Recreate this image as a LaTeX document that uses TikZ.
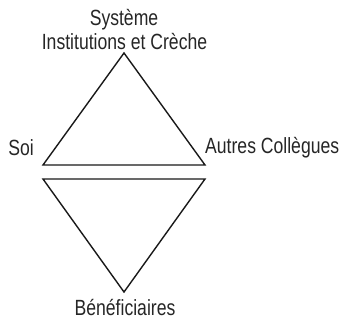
\documentclass[tikz,border=0pt]{standalone}
\usepackage{fontspec}
\setmainfont[FakeStretch=0.8]{Liberation Sans}
\begin{document}
\begin{tikzpicture}[x=1pt,y=-1pt,
  lbl/.style={inner sep=0pt,anchor=base,text=black!85,font=\fontsize{22}{24}\selectfont},
  tri/.style={draw=black!90,line width=1.4pt,line join=miter}]
\useasboundingbox (0,0) rectangle (341,320);
\coordinate (ta) at (124,53);
\coordinate (tl) at (43,165);
\coordinate (tr) at (205,165);
\coordinate (bl) at (43,179);
\coordinate (br) at (205,179);
\coordinate (ba) at (124,292);
\draw[tri] (ta) -- (tl) -- (tr) -- cycle;
\draw[tri] (bl) -- (br) -- (ba) -- cycle;
\node[lbl] (sys) at (124,26) {Système};
\node[lbl] (inst) at (124.5,50) {Institutions et Crèche};
\node[lbl] (soi) at (21,156) {Soi};
\node[lbl,anchor=base west] (autres) at (205,154) {Autres Collègues};
\node[lbl] (ben) at (125,316) {Bénéficiaires};
\end{tikzpicture}
\end{document}
